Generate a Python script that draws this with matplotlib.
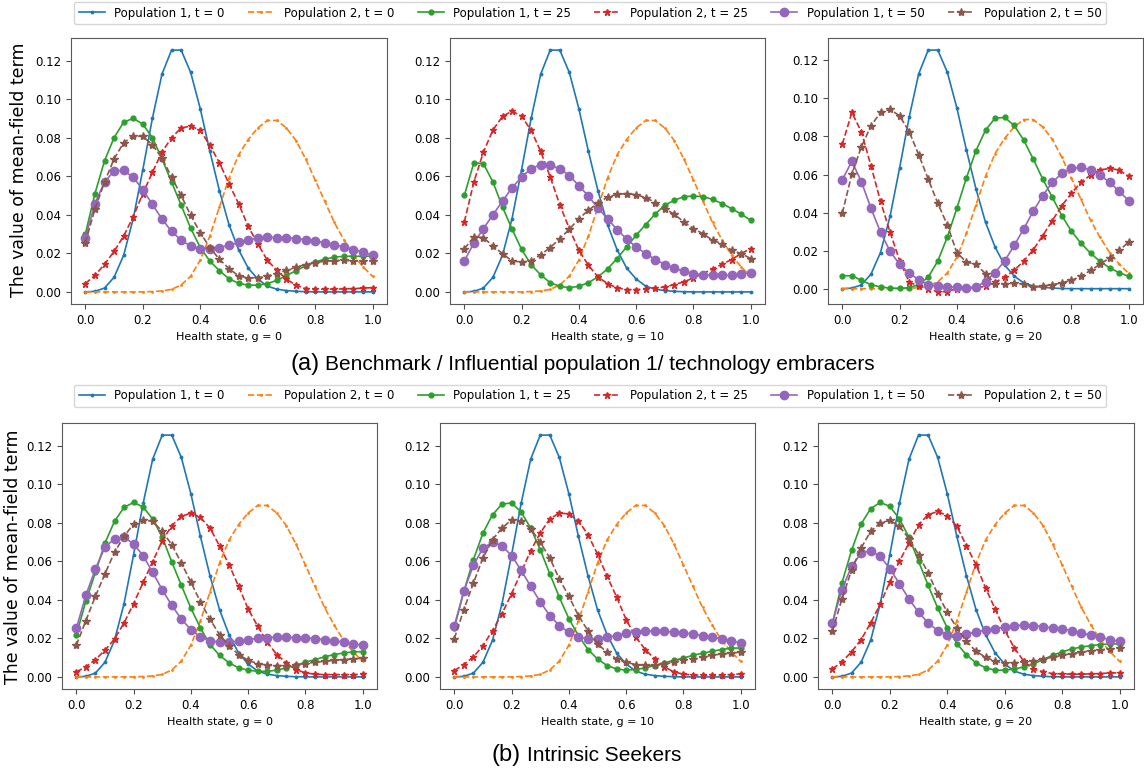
import numpy as np
import matplotlib
matplotlib.use("Agg")
import matplotlib.pyplot as plt

# health grid: 31 points on [0, 1]
health = np.linspace(0, 1, 31)

# initial distributions (same in every panel)
pop1_t0 = [0.0, 0.0003, 0.002, 0.0076, 0.019, 0.038, 0.0634, 0.090, 0.1129, 0.1254, 0.1254,
           0.1138, 0.095, 0.0729, 0.0525, 0.0349, 0.0219, 0.0124, 0.0067, 0.003, 0.0014,
           0.0007, 0.0003, 0.0001, 0.0, 0.0, 0.0, 0.0, 0.0, 0.0, 0.0]
pop2_t0 = [0.0, 0.0, 0.0, 0.0, 0.0, 0.0, 0.0, 0.0002, 0.0005, 0.0013, 0.0036,
           0.0082, 0.0165, 0.029, 0.044, 0.059, 0.071, 0.079, 0.085, 0.0889, 0.0889,
           0.085, 0.0785, 0.069, 0.058, 0.047, 0.036, 0.027, 0.019, 0.013, 0.008]

# (a) benchmark, g = 0
a0_p1_t25 = [0.030, 0.051, 0.068, 0.080, 0.088, 0.090, 0.087, 0.080, 0.069, 0.057, 0.045,
             0.033, 0.023, 0.016, 0.011, 0.0068, 0.0045, 0.0035, 0.0035, 0.0043, 0.006,
             0.0085, 0.011, 0.0135, 0.0155, 0.017, 0.018, 0.0185, 0.0185, 0.0185, 0.0185]
a0_p2_t25 = [0.0043, 0.0086, 0.0143, 0.021, 0.029, 0.039, 0.051, 0.062, 0.0725, 0.080, 0.085,
             0.086, 0.0838, 0.076, 0.067, 0.056, 0.0458, 0.034, 0.025, 0.0164, 0.0112,
             0.0066, 0.0035, 0.0017, 0.0014, 0.0014, 0.0014, 0.0016, 0.0017, 0.002, 0.0022]
a0_p1_t50 = [0.028, 0.0458, 0.057, 0.0627, 0.063, 0.0594, 0.053, 0.0454, 0.0378, 0.0314, 0.0268,
             0.0237, 0.0224, 0.0224, 0.023, 0.0242, 0.0257, 0.0271, 0.0278, 0.0283, 0.0282,
             0.0282, 0.0276, 0.0271, 0.0264, 0.0256, 0.0245, 0.0233, 0.0219, 0.0206, 0.019]
a0_p2_t50 = [0.0256, 0.043, 0.057, 0.069, 0.0774, 0.0807, 0.0807, 0.0763, 0.0694, 0.0596, 0.050,
             0.0397, 0.0307, 0.023, 0.0169, 0.0121, 0.0083, 0.0073, 0.0073, 0.0083, 0.0095,
             0.0112, 0.0128, 0.0142, 0.0152, 0.0159, 0.0162, 0.0164, 0.016, 0.0159, 0.0162]

# (a) benchmark, g = 10
a10_p1_t25 = [0.050, 0.067, 0.0665, 0.057, 0.044, 0.0326, 0.022, 0.0142, 0.0088, 0.0048, 0.0029,
              0.0022, 0.0029, 0.0048, 0.0078, 0.0119, 0.0173, 0.0233, 0.0294, 0.0349, 0.0404,
              0.045, 0.0475, 0.0494, 0.0497, 0.0494, 0.048, 0.0458, 0.0432, 0.0404, 0.0371]
a10_p2_t25 = [0.0363, 0.057, 0.0725, 0.084, 0.091, 0.0938, 0.091, 0.0838, 0.0729, 0.0596, 0.0452,
              0.0328, 0.0216, 0.0138, 0.0078, 0.0043, 0.0021, 0.0012, 0.0012, 0.0014, 0.0019,
              0.0026, 0.0038, 0.0052, 0.0073, 0.0095, 0.0119, 0.0143, 0.0168, 0.0199, 0.0225]
a10_p1_t50 = [0.016, 0.0254, 0.0328, 0.040, 0.0471, 0.054, 0.0596, 0.0639, 0.066, 0.0656, 0.0639,
              0.0603, 0.0551, 0.0497, 0.0434, 0.038, 0.0323, 0.0275, 0.0233, 0.0199, 0.0168,
              0.0142, 0.0123, 0.0107, 0.0095, 0.009, 0.0086, 0.0086, 0.0086, 0.0092, 0.010]
a10_p2_t50 = [0.0223, 0.0285, 0.0282, 0.0237, 0.0199, 0.016, 0.0155, 0.016, 0.0193, 0.023, 0.0276,
              0.0325, 0.038, 0.0423, 0.0461, 0.0492, 0.0506, 0.051, 0.0504, 0.0489, 0.0463,
              0.0432, 0.0402, 0.0363, 0.0328, 0.0302, 0.0268, 0.025, 0.0216, 0.0199, 0.0173]

# (a) benchmark, g = 20
a20_p1_t25 = [0.0068, 0.0068, 0.0044, 0.0021, 0.0009, 0.0003, 0.0002, 0.0005, 0.0021, 0.0061, 0.0145,
              0.0271, 0.0423, 0.0582, 0.0725, 0.0833, 0.0896, 0.090, 0.0858, 0.0781, 0.0681,
              0.0576, 0.048, 0.0384, 0.0302, 0.0239, 0.0187, 0.0143, 0.011, 0.0084, 0.0065]
a20_p2_t25 = [0.076, 0.0926, 0.0824, 0.0646, 0.0459, 0.0297, 0.0148, 0.0035, 0.0012, 0.0, -0.0017,
              -0.0015, 0.0, 0.0003, 0.0005, 0.0012, 0.0033, 0.0061, 0.0096, 0.0145, 0.0204,
              0.0279, 0.0358, 0.0437, 0.0501, 0.0559, 0.0597, 0.0624, 0.0632, 0.0624, 0.059]
a20_p1_t50 = [0.0573, 0.0669, 0.0562, 0.0423, 0.0297, 0.0197, 0.0128, 0.0082, 0.0047, 0.0021, 0.0012,
              0.0009, 0.0007, 0.0005, 0.0009, 0.0037, 0.0085, 0.0145, 0.0227, 0.0314, 0.0407,
              0.0489, 0.0559, 0.0606, 0.0632, 0.0638, 0.0625, 0.0597, 0.0559, 0.0512, 0.0463]
a20_p2_t50 = [0.0397, 0.0603, 0.0746, 0.0856, 0.0926, 0.0943, 0.0908, 0.0826, 0.0704, 0.0576, 0.0449,
              0.0335, 0.0189, 0.014, 0.0128, 0.0079, 0.0026, 0.0023, 0.003, 0.0023, 0.0009,
              0.0014, 0.0021, 0.0031, 0.0044, 0.0065, 0.0096, 0.0128, 0.0162, 0.0201, 0.0245]

# (b) intrinsic seekers, g = 0
b0_p1_t25 = [0.0219, 0.0392, 0.0542, 0.0694, 0.0807, 0.0879, 0.0905, 0.0881, 0.0819, 0.0725, 0.0596,
             0.0475, 0.0357, 0.0254, 0.0168, 0.0112, 0.0073, 0.0047, 0.0035, 0.0029, 0.0029,
             0.0035, 0.0047, 0.006, 0.0076, 0.009, 0.0104, 0.0116, 0.0124, 0.013, 0.0131]
b0_p2_t25 = [0.0026, 0.0052, 0.009, 0.0138, 0.0197, 0.028, 0.038, 0.049, 0.0598, 0.0706, 0.0784,
             0.0832, 0.085, 0.0827, 0.0772, 0.068, 0.0582, 0.047, 0.0352, 0.0263, 0.018,
             0.0116, 0.0073, 0.0038, 0.0021, 0.0014, 0.0012, 0.0012, 0.0012, 0.0012, 0.0014]
b0_p1_t50 = [0.0252, 0.0423, 0.0561, 0.0672, 0.0717, 0.0725, 0.0689, 0.0629, 0.0542, 0.0452, 0.0371,
             0.030, 0.0245, 0.0207, 0.0188, 0.018, 0.018, 0.0185, 0.0193, 0.020, 0.0204,
             0.0206, 0.0206, 0.0204, 0.0202, 0.0199, 0.0193, 0.0188, 0.0181, 0.0173, 0.0164]
b0_p2_t50 = [0.0164, 0.0292, 0.0418, 0.0535, 0.0646, 0.0729, 0.0793, 0.0815, 0.0807, 0.0755, 0.0686,
             0.0591, 0.0492, 0.0389, 0.030, 0.0219, 0.0162, 0.0116, 0.0086, 0.0069, 0.006,
             0.0059, 0.0059, 0.0064, 0.0069, 0.0076, 0.0081, 0.0086, 0.009, 0.0093, 0.0097]

# (b) intrinsic seekers, g = 10
b10_p1_t25 = [0.0254, 0.0444, 0.0608, 0.0746, 0.0841, 0.0896, 0.0902, 0.0855, 0.0772, 0.066, 0.0535,
              0.0413, 0.0302, 0.0214, 0.0142, 0.0093, 0.0059, 0.0041, 0.0035, 0.0038, 0.0047,
              0.0059, 0.0073, 0.0086, 0.0098, 0.0112, 0.0123, 0.0133, 0.0142, 0.0149, 0.015]
b10_p2_t25 = [0.0033, 0.0064, 0.0104, 0.0162, 0.024, 0.0328, 0.0432, 0.0542, 0.0655, 0.0746, 0.0819,
              0.085, 0.0845, 0.081, 0.0737, 0.0637, 0.0522, 0.0415, 0.0297, 0.0207, 0.0142,
              0.0093, 0.0052, 0.0026, 0.0014, 0.001, 0.0009, 0.0009, 0.001, 0.0012, 0.0016]
b10_p1_t50 = [0.0266, 0.0444, 0.0579, 0.0668, 0.0698, 0.068, 0.0629, 0.0553, 0.047, 0.0389, 0.0318,
              0.0266, 0.0231, 0.0207, 0.0197, 0.0199, 0.0206, 0.0214, 0.0228, 0.0235, 0.0238,
              0.0238, 0.0237, 0.0233, 0.0228, 0.0223, 0.0214, 0.0206, 0.0199, 0.0188, 0.0176]
b10_p2_t50 = [0.0199, 0.0349, 0.0487, 0.0617, 0.0712, 0.0772, 0.0815, 0.0807, 0.0769, 0.0698, 0.0617,
              0.0508, 0.0418, 0.0318, 0.024, 0.0171, 0.0128, 0.0093, 0.0076, 0.0064, 0.006,
              0.006, 0.0067, 0.0076, 0.0086, 0.0095, 0.0104, 0.0112, 0.0119, 0.0124, 0.0128]

# (b) intrinsic seekers, g = 20
b20_p1_t25 = [0.0276, 0.0487, 0.0656, 0.0793, 0.0872, 0.0905, 0.0884, 0.082, 0.0724, 0.060, 0.0475,
              0.0357, 0.0254, 0.0173, 0.0114, 0.0073, 0.0047, 0.0035, 0.0035, 0.0041, 0.0052,
              0.0067, 0.009, 0.0112, 0.013, 0.0145, 0.0155, 0.0162, 0.0168, 0.0171, 0.0171]
b20_p2_t25 = [0.0041, 0.0078, 0.013, 0.0193, 0.028, 0.0378, 0.0492, 0.060, 0.0694, 0.0789, 0.0841,
              0.0858, 0.0836, 0.0781, 0.068, 0.0582, 0.0461, 0.0352, 0.0242, 0.015, 0.0081,
              0.0041, 0.0026, 0.0017, 0.0016, 0.0014, 0.0014, 0.0016, 0.0017, 0.0021, 0.0021]
b20_p1_t50 = [0.028, 0.0453, 0.0573, 0.0642, 0.0655, 0.0625, 0.0561, 0.0484, 0.0404, 0.0335, 0.028,
              0.024, 0.0219, 0.0214, 0.0223, 0.0233, 0.0242, 0.025, 0.0259, 0.0266, 0.0268,
              0.0266, 0.0261, 0.0254, 0.0249, 0.024, 0.0228, 0.0216, 0.0206, 0.0193, 0.0185]
b20_p2_t50 = [0.0237, 0.0404, 0.0553, 0.0668, 0.0755, 0.0798, 0.0812, 0.0781, 0.0717, 0.0634, 0.0539,
              0.043, 0.0335, 0.0254, 0.0185, 0.0133, 0.0102, 0.0081, 0.0073, 0.0073, 0.0078,
              0.0085, 0.0093, 0.0102, 0.0112, 0.0121, 0.0128, 0.0135, 0.014, 0.0145, 0.0149]

labels = ["Population 1, t = 0", "Population 2, t = 0", "Population 1, t = 25",
          "Population 2, t = 25", "Population 1, t = 50", "Population 2, t = 50"]
g_values = [0, 10, 20]

# line styles per series: colour, linestyle, marker, markersize
styles = [("C0", "-", ".", 3.5), ("C1", "--", ".", 2), ("C2", "-", "o", 3.5),
          ("C3", "--", "*", 4.5), ("C4", "-", "o", 6), ("C5", "--", "*", 6)]

panels_a = [[pop1_t0, pop2_t0, a0_p1_t25, a0_p2_t25, a0_p1_t50, a0_p2_t50],
            [pop1_t0, pop2_t0, a10_p1_t25, a10_p2_t25, a10_p1_t50, a10_p2_t50],
            [pop1_t0, pop2_t0, a20_p1_t25, a20_p2_t25, a20_p1_t50, a20_p2_t50]]
panels_b = [[pop1_t0, pop2_t0, b0_p1_t25, b0_p2_t25, b0_p1_t50, b0_p2_t50],
            [pop1_t0, pop2_t0, b10_p1_t25, b10_p2_t25, b10_p1_t50, b10_p2_t50],
            [pop1_t0, pop2_t0, b20_p1_t25, b20_p2_t25, b20_p1_t50, b20_p2_t50]]

W, H = 1144, 770
fig = plt.figure(figsize=(W / 100, H / 100), dpi=100)


def px_axes(x0, x1, ytop, ybot):
    return fig.add_axes([x0 / W, 1 - ybot / H, (x1 - x0) / W, (ybot - ytop) / H])


top_boxes = [(71, 387), (450, 765), (828, 1143)]
bot_boxes = [(62, 377), (440, 755), (818, 1134)]

handles = None
for row, (boxes, panels, ytop, ybot) in enumerate(
        [(top_boxes, panels_a, 38, 304), (bot_boxes, panels_b, 423, 689)]):
    for k, ((x0, x1), series) in enumerate(zip(boxes, panels)):
        ax = px_axes(x0, x1, ytop, ybot)
        hs = []
        for vals, (col, ls, mk, ms), lab in zip(series, styles, labels):
            h, = ax.plot(health, vals, color=col, linestyle=ls, marker=mk,
                         markersize=ms, linewidth=1.2, label=lab)
            hs.append(h)
        handles = hs
        ax.set_xlabel("Health state, g = %d" % g_values[k], fontsize=8)
        ax.tick_params(labelsize=8.5, color="0.3")
        for sp in ax.spines.values():
            sp.set_color("0.35")
    fig.legend(handles, labels, ncol=6, fontsize=8.5, loc="center",
               bbox_to_anchor=(590 / W, 1 - (13 if row == 0 else 396) / H),
               borderpad=0.4, handlelength=2.2)

fig.text(19 / W, 1 - 170 / H, "The value of mean-field term", rotation=90,
         ha="center", va="center", fontsize=12.5)
fig.text(13 / W, 1 - 557 / H, "The value of mean-field term", rotation=90,
         ha="center", va="center", fontsize=12.5)

cap_font = ["Liberation Sans", "DejaVu Sans"]
fig.text(320 / W, 1 - 370 / H, "(a)", ha="right", va="baseline", fontsize=17, family=cap_font)
fig.text(325 / W, 1 - 370 / H, "Benchmark / Influential population 1/ technology embracers",
         ha="left", va="baseline", fontsize=15, family=cap_font)
fig.text(521 / W, 1 - 761 / H, "(b)", ha="right", va="baseline", fontsize=17, family=cap_font)
fig.text(527 / W, 1 - 761 / H, "Intrinsic Seekers", ha="left", va="baseline",
         fontsize=15, family=cap_font)

fig.savefig("out.png", dpi=100)
